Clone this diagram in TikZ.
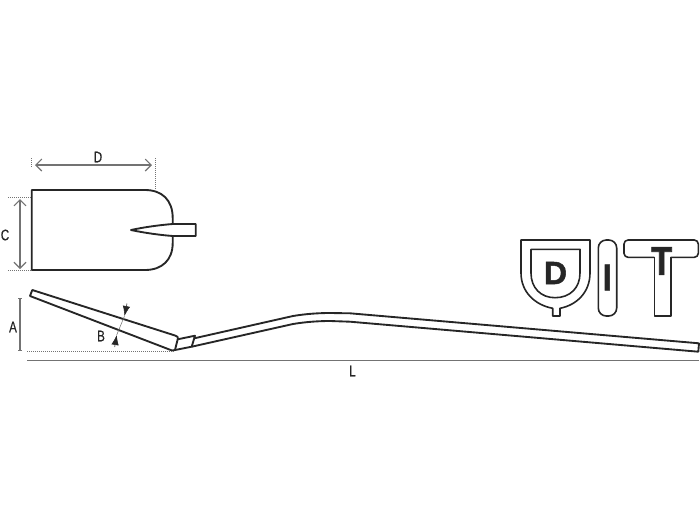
\documentclass[tikz,border=0pt]{standalone}
\usepackage{fontspec}
\usepackage{xcolor}
\usetikzlibrary{positioning,arrows.meta}
\newfontfamily\labelfont[FakeStretch=0.76,FakeBold=0.4]{Liberation Sans}
\newfontfamily\markfont[FakeStretch=0.85,BoldFeatures={FakeBold=1.6}]{Liberation Sans}
\newfontfamily\widemarkfont[BoldFeatures={FakeBold=1.6}]{Liberation Sans}
\definecolor{inkline}{gray}{0.15}
\definecolor{dimgray}{gray}{0.45}
\tikzset{
  outline/.style={draw=inkline,line width=1.4pt,line join=round},
  markline/.style={draw=inkline,line width=1.2pt,line join=round},
  dimline/.style={draw=dimgray,line width=.8pt},
  openarrow/.style={{Straight Barb[length=4.5pt,width=9pt]}-{Straight Barb[length=4.5pt,width=9pt]}},
  solidarrow/.style={-{Latex[length=7.5pt,width=5.5pt]}},
  dotline/.style={draw=dimgray,line width=.5pt,densely dotted},
  dimlabel/.style={inner sep=0pt,text=inkline,font=\labelfont\fontsize{11.5}{12}\selectfont},
  markletter/.style={inner sep=0pt,text=inkline}
}
\begin{document}
\begin{tikzpicture}[x=.75pt,y=-.75pt]
    \useasboundingbox (0,0) rectangle (700,525);
    % blade seen from above
    \draw[outline] (172.7,224) -- (172.7,218) .. controls (172.7,200) and (162,190) .. (145,190)
      -- (31.7,190) -- (31.7,270) -- (145,270) .. controls (162,270) and (172.7,260) .. (172.7,243) -- (172.7,236);
    \draw[outline] (131,230) .. controls (145,227) and (160,225) .. (172.7,224) -- (195.7,224)
      -- (195.7,236) -- (172.7,236) .. controls (160,235) and (145,233) .. (131,230) -- cycle;
    % profile
    \draw[outline] (177.7,339.3) .. controls (178.5,337.5) and (178,336.8) .. (175,335.5) -- (32.3,290) -- (30,296)
      -- (172,350.5) .. controls (173,350.8) and (174,350.5) .. (175,350) -- (191.7,346.7) -- (195,335.7) -- cycle;
    \draw[outline] (177.7,339.3) -- (175,350);
    \draw[outline] (194.3,338.3) -- (293,316) .. controls (305,314) and (318,313) .. (330,313)
      -- (350,313.3) -- (699,343.3) -- (698.3,351.7) -- (350,321.7) -- (330,321)
      .. controls (318,321) and (305,322) .. (293,324) -- (191.7,346.7);
    % dimensions
    \coordinate (Dl) at (35,165);
    \coordinate (Dr) at (152,165);
    \coordinate (Ct) at (20,199);
    \coordinate (Cb) at (20,269);
    \coordinate (At) at (20,298);
    \coordinate (Ab) at (20,351);
    \coordinate (Ll) at (27,360.7);
    \coordinate (Lr) at (699,360.7);
    \coordinate (Bt) at (127,303.5);
    \coordinate (Bu) at (124.5,316);
    \coordinate (Bd) at (116.7,335);
    \coordinate (Bb) at (114.7,347);
    \draw[dimline,openarrow] (Dl) -- (Dr);
    \draw[dimline,openarrow] (Ct) -- (Cb);
    \draw[dimline,{Bar[width=3pt]}-{Bar[width=3pt]}] (At) -- (Ab);
    \draw[dimline] (Ll) -- (Lr);
    \draw[dimline,line width=.4pt] (Bu) -- (Bd);
    \draw[dimline,draw=inkline,line width=.4pt,solidarrow,inkline] (Bt) -- (Bu);
    \draw[dimline,draw=inkline,line width=.4pt,solidarrow,inkline] (Bb) -- (Bd);
    \draw[dotline] (31.5,158) -- (31.5,168);
    \draw[dotline] (155,158) -- (155,189);
    \draw[dotline] (8,197) -- (31,197);
    \draw[dotline] (8,270.5) -- (31,270.5);
    \draw[dotline] (27,351) -- (175,351);
    \node[dimlabel] (labD) at (98,157) {D};
    \node[dimlabel] (labC) at (5,235) {C};
    \node[dimlabel] (labA) at (13,327) {A};
    \node[dimlabel] (labB) at (101,336) {B};
    \node[dimlabel] (labL) at (352.5,371) {L};
    % the three marks
    \draw[markline] (521,240) -- (590,240) -- (590,273) .. controls (590,292) and (577,305) .. (560,308.3)
      -- (560,316) -- (552.7,316) -- (552.7,308.3) .. controls (535,305) and (521,292) .. (521,273) -- cycle;
    \draw[markline] (531,249.3) -- (580,249.3) -- (580,273) .. controls (580,288) and (570,297.7) .. (555,297.7)
      .. controls (541,297.7) and (531,288) .. (531,273) -- cycle;
    \node[markletter,font=\widemarkfont\bfseries\fontsize{24}{24}\selectfont] (markD) at (555.5,273) {D};
    \draw[markline,rounded corners=6pt] (598.3,240) rectangle (616.7,316);
    \node[markletter,font=\markfont\bfseries\fontsize{28}{28}\selectfont] (markI) at (607.3,277.5) {I};
    \draw[markline,rounded corners=3pt] (654.3,257.3) -- (624,257.3) -- (624,240) -- (698.3,240) -- (698.3,257.3) -- (670.7,257.3);
    \draw[markline] (654.3,257.3) -- (654.3,316) -- (670.7,316) -- (670.7,257.3);
    \node[markletter,font=\markfont\bfseries\fontsize{30}{30}\selectfont] (markT) at (661.7,261) {T};
\end{tikzpicture}
\end{document}
